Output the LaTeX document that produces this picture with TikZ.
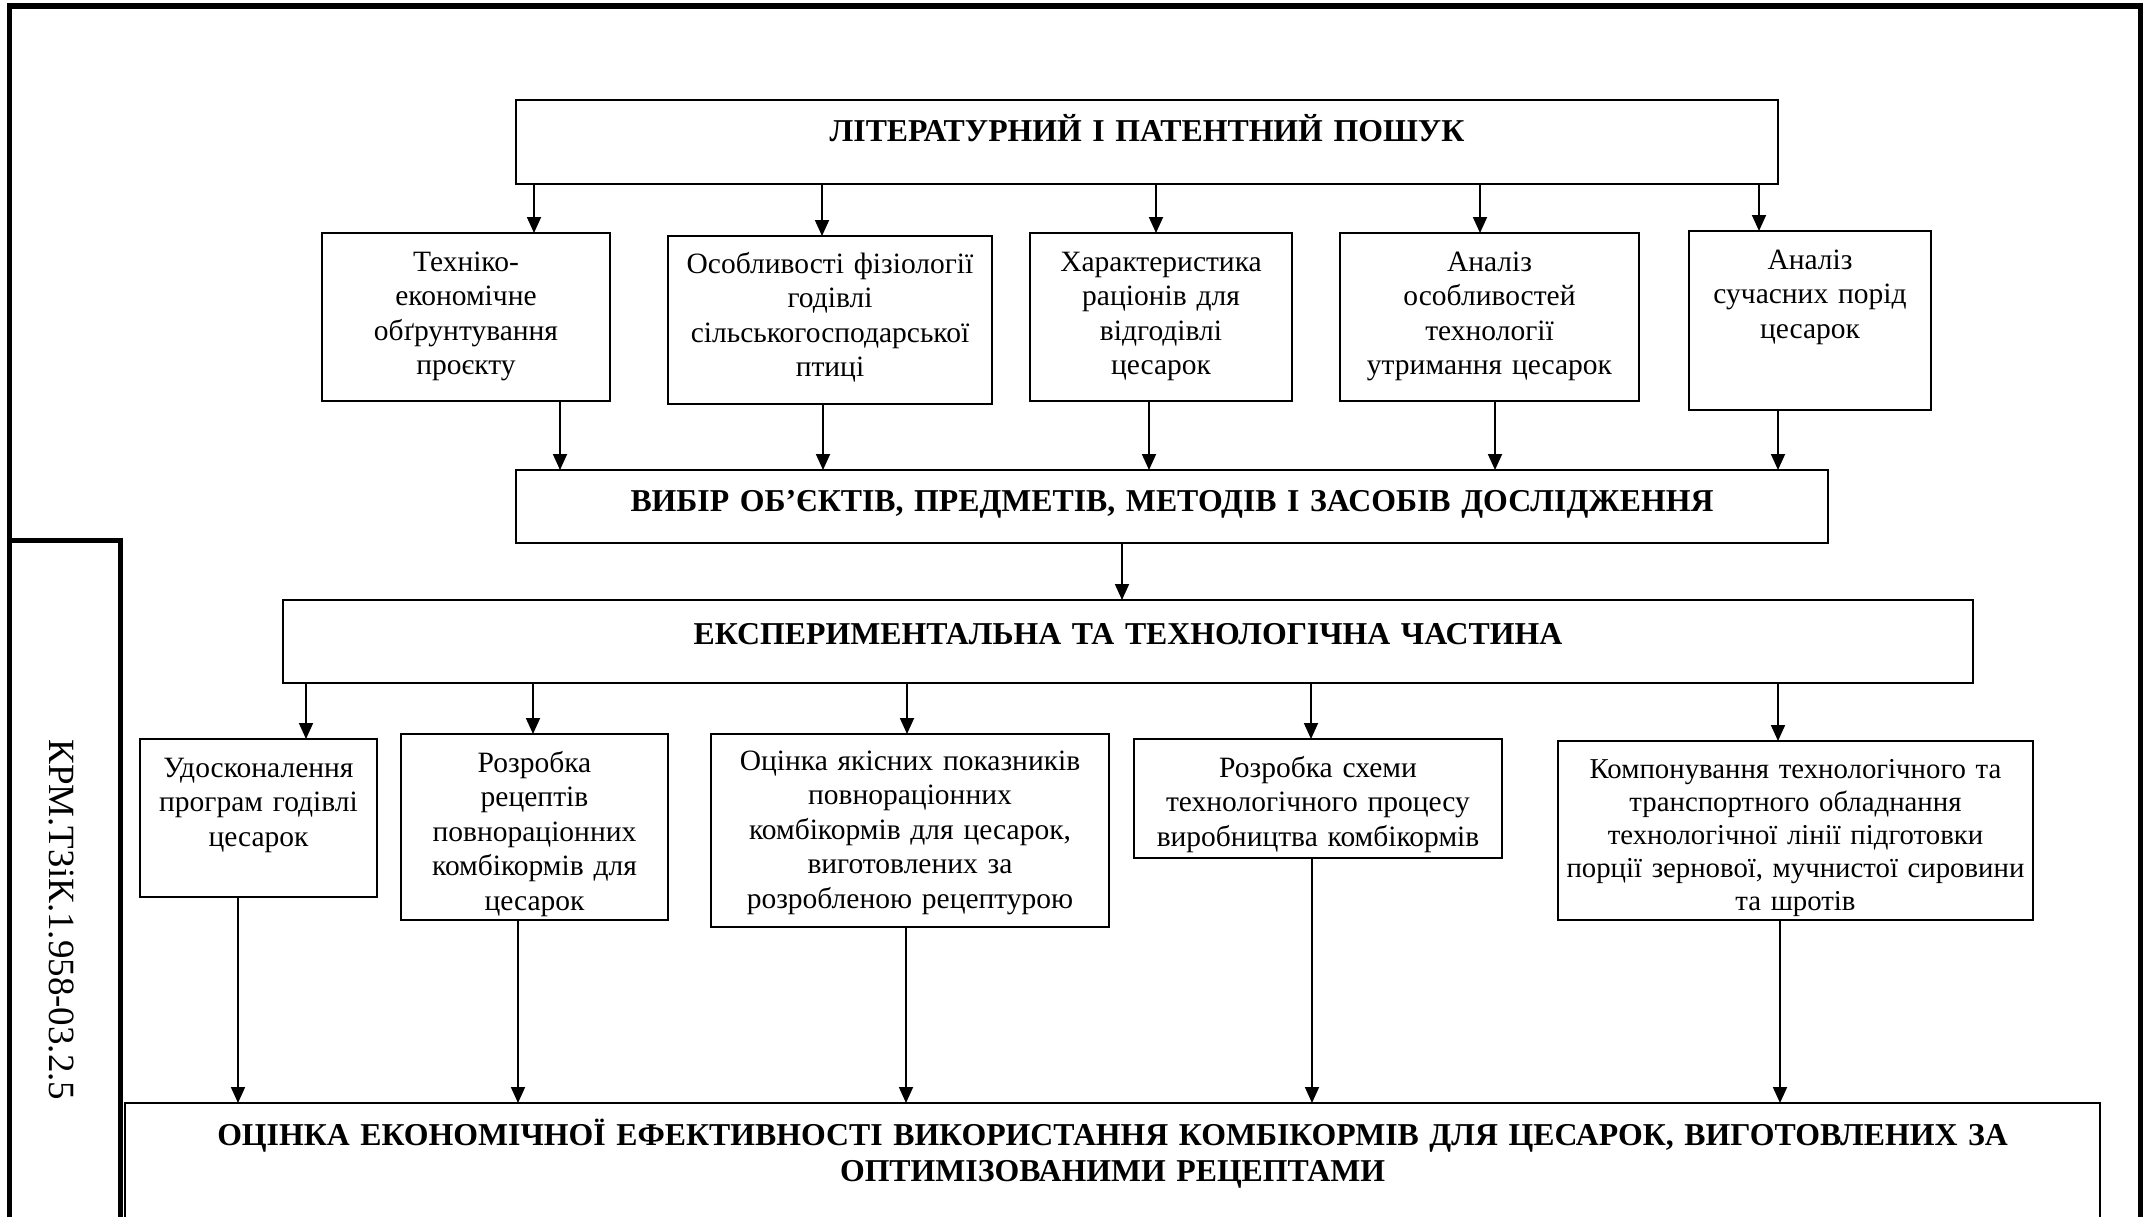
\documentclass[tikz,border=0pt]{standalone}
\usepackage{fontspec}
\setmainfont{Liberation Serif}
\usetikzlibrary{arrows.meta}
\tikzset{
  box/.style={draw, line width=1.8pt, inner sep=0pt, outer sep=0pt},
  txt/.style={anchor=base, align=center, inner sep=0pt, font=\fontsize{29.5}{34.5}\selectfont},
  ttl/.style={anchor=base, align=center, inner sep=0pt, font=\fontsize{31.8}{36}\selectfont\bfseries},
  arr/.style={line width=1.8pt, -{Triangle[length=16pt,width=14pt]}},
  frame/.style={line width=5pt}
}
\begin{document}
\begin{tikzpicture}[x=1pt,y=-1pt]
\useasboundingbox (0,0) rectangle (2147,1216);
\clip (0,0) rectangle (2147,1216);
% outer frame and stamp column
\draw[frame, line width=6pt] (9,6) -- (2140,6);
\draw[frame] (9,3) -- (9,1230);
\draw[frame] (2140,3) -- (2140,1230);
\draw[frame] (9,540) -- (120,540) -- (120,1230);
\node[rotate=-90, font=\fontsize{37}{40}\selectfont, inner sep=0pt] (code) at (62,920) {КРМ.ТЗіК.1.958-03.2.5};

% boxes
\node[box, minimum width=1262, minimum height=84] (T) at (1147,142) {};
\node[ttl, text width=1240] at (1147,141) {ЛІТЕРАТУРНИЙ І ПАТЕНТНИЙ ПОШУК};

\node[box, minimum width=288, minimum height=168] (B1) at (466,317) {};
\node[txt, text width=280] at (466,271) {Техніко-\\економічне\\обґрунтування\\проєкту};
\node[box, minimum width=324, minimum height=168] (B2) at (830,320) {};
\node[txt, text width=316] at (830,273) {Особливості фізіології\\годівлі\\сільськогосподарської\\птиці};
\node[box, minimum width=262, minimum height=168] (B3) at (1161,317) {};
\node[txt, text width=254] at (1161,271) {Характеристика\\раціонів для\\відгодівлі\\цесарок};
\node[box, minimum width=299, minimum height=168] (B4) at (1489.5,317) {};
\node[txt, text width=291] at (1489.5,271) {Аналіз\\особливостей\\технології\\утримання цесарок};
\node[box, minimum width=242, minimum height=179] (B5) at (1810,320.5) {};
\node[txt, text width=236] at (1810,269) {Аналіз\\сучасних порід\\цесарок};

\node[box, minimum width=1312, minimum height=73] (V) at (1172,506.5) {};
\node[ttl, text width=1300] at (1172,511) {ВИБІР ОБ’ЄКТІВ, ПРЕДМЕТІВ, МЕТОДІВ І ЗАСОБІВ ДОСЛІДЖЕННЯ};

\node[box, minimum width=1690, minimum height=83] (E) at (1128,641.5) {};
\node[ttl, text width=1680] at (1128,644) {ЕКСПЕРИМЕНТАЛЬНА ТА ТЕХНОЛОГІЧНА ЧАСТИНА};

\node[box, minimum width=237, minimum height=158] (C1) at (258.5,818) {};
\node[txt, text width=233] at (258.5,777) {Удосконалення\\програм годівлі\\цесарок};
\node[box, minimum width=267, minimum height=186] (C2) at (534.5,827) {};
\node[txt, text width=261] at (534.5,772) {Розробка\\рецептів\\повнораціонних\\комбікормів для\\цесарок};
\node[box, minimum width=398, minimum height=193] (C3) at (910,830.5) {};
\node[txt, text width=390] at (910,770) {Оцінка якісних показників\\повнораціонних\\комбікормів для цесарок,\\виготовлених за\\розробленою рецептурою};
\node[box, minimum width=368, minimum height=119] (C4) at (1318,798.5) {};
\node[txt, text width=360] at (1318,777) {Розробка схеми\\технологічного процесу\\виробництва комбікормів};
\node[box, minimum width=475, minimum height=179] (C5) at (1795.5,830.5) {};
\node[txt, text width=472, font=\fontsize{28.8}{33}\selectfont] at (1795.5,778) {Компонування технологічного та\\транспортного обладнання\\технологічної лінії підготовки\\порції зернової, мучнистої сировини\\та шротів};

\node[box, minimum width=1975, minimum height=137] (O) at (1112.5,1171.5) {};
\node[ttl, text width=1960] at (1112.5,1145) {ОЦІНКА ЕКОНОМІЧНОЇ ЕФЕКТИВНОСТІ ВИКОРИСТАННЯ КОМБІКОРМІВ ДЛЯ ЦЕСАРОК, ВИГОТОВЛЕНИХ ЗА\\ОПТИМІЗОВАНИМИ РЕЦЕПТАМИ};

% arrows: top -> row 1
\draw[arr] (534,0 |- T.south) -- (534,0 |- B1.north);
\draw[arr] (822,0 |- T.south) -- (822,0 |- B2.north);
\draw[arr] (1156,0 |- T.south) -- (1156,0 |- B3.north);
\draw[arr] (1480,0 |- T.south) -- (1480,0 |- B4.north);
\draw[arr] (1759,0 |- T.south) -- (1759,0 |- B5.north);
% row 1 -> V
\draw[arr] (560,0 |- B1.south) -- (560,0 |- V.north);
\draw[arr] (823,0 |- B2.south) -- (823,0 |- V.north);
\draw[arr] (1149,0 |- B3.south) -- (1149,0 |- V.north);
\draw[arr] (1495,0 |- B4.south) -- (1495,0 |- V.north);
\draw[arr] (1778,0 |- B5.south) -- (1778,0 |- V.north);
% V -> E
\draw[arr] (1122,0 |- V.south) -- (1122,0 |- E.north);
% E -> row 2
\draw[arr] (306,0 |- E.south) -- (306,0 |- C1.north);
\draw[arr] (533,0 |- E.south) -- (533,0 |- C2.north);
\draw[arr] (907,0 |- E.south) -- (907,0 |- C3.north);
\draw[arr] (1311,0 |- E.south) -- (1311,0 |- C4.north);
\draw[arr] (1778,0 |- E.south) -- (1778,0 |- C5.north);
% row 2 -> O
\draw[arr] (238,0 |- C1.south) -- (238,0 |- O.north);
\draw[arr] (518,0 |- C2.south) -- (518,0 |- O.north);
\draw[arr] (906,0 |- C3.south) -- (906,0 |- O.north);
\draw[arr] (1312,0 |- C4.south) -- (1312,0 |- O.north);
\draw[arr] (1780,0 |- C5.south) -- (1780,0 |- O.north);
\end{tikzpicture}
\end{document}
